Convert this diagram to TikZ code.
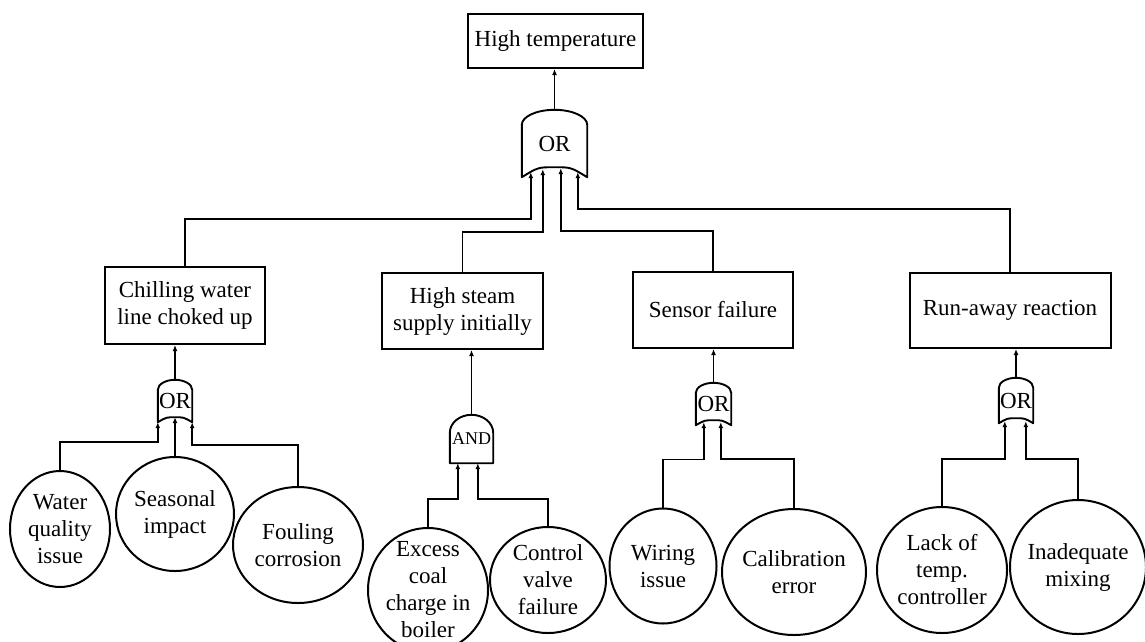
\documentclass[tikz,border=0pt]{standalone}
\usepackage{fontspec}
\setmainfont{Liberation Serif}
\usetikzlibrary{shapes.geometric,arrows.meta,calc}
\newcommand\orgateoutline[3]{%
  \draw[gateline] (#1.south west) -- ($(#1.north west)+(0,#2)$)
   .. controls ($(#1.north west)+(0,0.45*#2)$) and ($(#1.north)!0.55!(#1.north west)$) .. (#1.north)
   .. controls ($(#1.north)!0.55!(#1.north east)$) and ($(#1.north east)+(0,0.45*#2)$) .. ($(#1.north east)+(0,#2)$)
   -- (#1.south east)
   .. controls ($(#1.south)!0.5!(#1.south east)+(0,-#3)$) .. ($(#1.south)+(0,-#3)$)
   .. controls ($(#1.south)!0.5!(#1.south west)+(0,-#3)$) .. (#1.south west) -- cycle;}
\newcommand\andgateoutline[2]{%
  \draw[gateline] (#1.south west) -- ($(#1.north west)+(0,#2)$)
   .. controls ($(#1.north west)+(0,0.45*#2)$) and ($(#1.north)!0.55!(#1.north west)$) .. (#1.north)
   .. controls ($(#1.north)!0.55!(#1.north east)$) and ($(#1.north east)+(0,0.45*#2)$) .. ($(#1.north east)+(0,#2)$)
   -- (#1.south east) -- cycle;}
\begin{document}
\begin{tikzpicture}[x=1pt,y=-1pt,
  every node/.style={font=\fontsize{23}{27}\selectfont},
  evbox/.style={draw, line width=2pt, rectangle, inner sep=0pt, align=center},
  basic/.style={draw, line width=2pt, ellipse, inner sep=-20pt, align=center},
  gatebox/.style={rectangle, inner sep=0pt, draw=none},
  gateline/.style={line width=1.9pt, line join=round},
  arr/.style={line width=1.9pt, -{Latex[length=6pt,width=5pt]}},
]
\path[fill=white] (0,0) rectangle (1145,641);
\useasboundingbox (0,0) rectangle (1145,641);

% events
\node[evbox, minimum width=175pt, minimum height=54pt] (top) at (555.5,41) {High temperature};
\node[evbox, minimum width=160pt, minimum height=77pt] (chill) at (185,305.5) {Chilling water\\line choked up};
\node[evbox, minimum width=161pt, minimum height=76pt] (steam) at (462.5,311) {High steam\\supply initially};
\node[evbox, minimum width=160pt, minimum height=76pt] (sensor) at (713,310) {Sensor failure};
\node[evbox, minimum width=201pt, minimum height=75pt] (runaway) at (1010,310.5) {Run-away reaction};

% gates
\node[gatebox, minimum width=65pt, minimum height=67pt] (g0) at (554.5,143.5) {OR};
\node[gatebox, minimum width=34pt, minimum height=42pt] (gc) at (175,401) {OR};
\node[gatebox, minimum width=43pt, minimum height=48pt, font=\fontsize{18}{20}\selectfont] (ga) at (471.5,439) {AND};
\node[gatebox, minimum width=35pt, minimum height=42pt] (gs) at (713.5,404) {OR};
\node[gatebox, minimum width=34pt, minimum height=45pt] (gr) at (1016,400.5) {OR};
\orgateoutline{g0}{15}{10}
\orgateoutline{gc}{10}{5}
\andgateoutline{ga}{18}
\orgateoutline{gs}{10}{5}
\orgateoutline{gr}{10}{5}

% basic events
\node[basic, minimum width=100pt, minimum height=116pt] (water) at (60,529) {Water\\quality\\issue};
\node[basic, minimum width=118pt, minimum height=114pt] (seas) at (175,514) {Seasonal\\impact};
\node[basic, minimum width=130pt, minimum height=116pt] (foul) at (298,545) {Fouling\\corrosion};
\node[basic, minimum width=120pt, minimum height=124pt] (excess) at (428,590) {Excess\\coal\\charge in\\boiler};
\node[basic, minimum width=116pt, minimum height=106pt] (control) at (548,580) {Control\\valve\\failure};
\node[basic, minimum width=107pt, minimum height=115pt] (wiring) at (663,566) {Wiring\\issue};
\node[basic, minimum width=144pt, minimum height=126pt] (calib) at (794,572) {Calibration\\error};
\node[basic, minimum width=130pt, minimum height=126pt] (lack) at (942,570) {Lack of\\temp.\\controller};
\node[basic, minimum width=136pt, minimum height=134pt] (inadq) at (1078,567) {Inadequate\\mixing};

% connectors: top level
\draw[arr] (g0.north) -- (g0.north |- top.south);
\draw[arr] (chill.north) -- ++(0,-47) -| ($(g0.south west)+(9,-5)$);
\draw[arr] (steam.north) -- ++(0,-40) -| ($(g0.south west)+(21,-8)$);
\draw[arr] (sensor.north) -- ++(0,-40) -| ($(g0.south west)+(39,-9)$);
\draw[arr] (runaway.north) -- ++(0,-63) -| ($(g0.south west)+(56,-5)$);

% chilling branch
\draw[arr] (gc.north) -- (gc.north |- chill.south);
\draw[arr] (water.north) -- ++(0,-28) -| (gc.south west);
\draw[arr] (seas.north) -- ($(gc.south)+(0,-5)$);
\draw[arr] (foul.north) -- ++(0,-41) -| (gc.south east);

% steam branch
\draw[arr] (ga.north) -- (ga.north |- steam.south);
\draw[arr] (excess.north) -- ++(0,-28) -| ($(ga.south west)+(8,0)$);
\draw[arr] (control.north) -- ++(0,-27) -| ($(ga.south west)+(28,0)$);

% sensor branch
\draw[arr] (gs.north) -- (gs.north |- sensor.south);
\draw[arr] (wiring.north) -- ++(0,-48) -| ($(gs.south west)+(8,-3)$);
\draw[arr] (calib.north) -- ++(0,-49) -| ($(gs.south west)+(25,-3)$);

% run-away branch
\draw[arr] (gr.north) -- (gr.north |- runaway.south);
\draw[arr] (lack.north) -- ++(0,-47) -| ($(gr.south west)+(6,-2)$);
\draw[arr] (inadq.north) -- ++(0,-40) -| ($(gr.south west)+(27,-2)$);
\end{tikzpicture}
\end{document}
